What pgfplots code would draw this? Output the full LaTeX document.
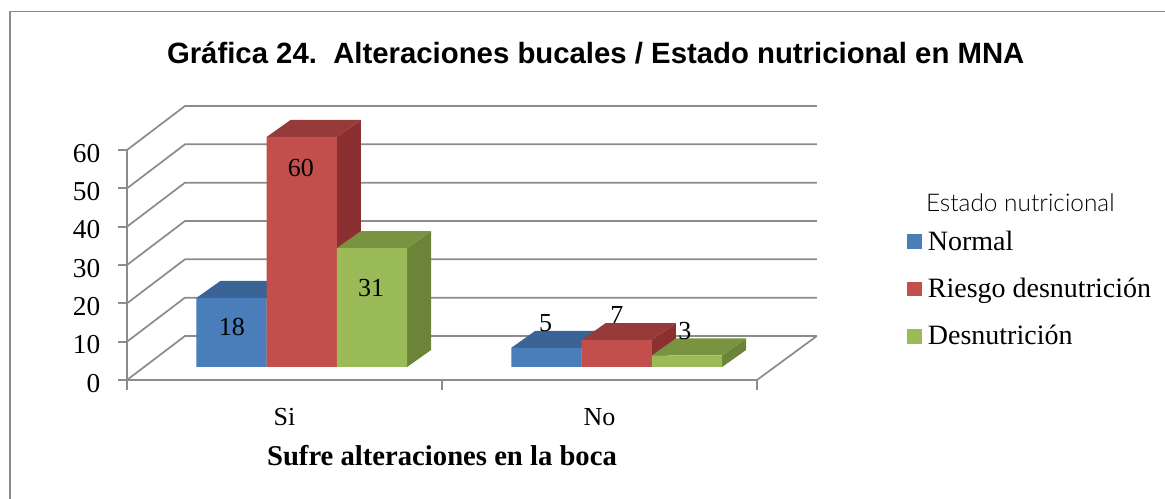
\documentclass[border=0pt]{standalone}
\usepackage{pgfplots}
\pgfplotsset{compat=1.18}
\usepackage{fontspec}
\setmainfont{Liberation Serif}
\newfontfamily\titlefont{Liberation Sans}
\newfontfamily\legtitlefont{Lato Light}

\definecolor{wallgray}{HTML}{8C8C8C}
\definecolor{bluefront}{HTML}{4A7EBB}
\definecolor{bluetop}{HTML}{3A6495}
\definecolor{blueside}{HTML}{335A87}
\definecolor{redfront}{HTML}{C34F4D}
\definecolor{redtop}{HTML}{963A3A}
\definecolor{redside}{HTML}{8C2F30}
\definecolor{greenfront}{HTML}{9BBB59}
\definecolor{greentop}{HTML}{7A9340}
\definecolor{greenside}{HTML}{6C8438}

% square legend key, with a little room before the entry's text
\pgfplotsset{swatch/.style={legend image code/.code={\fill[##1,draw=none] (0pt,-5.6pt) rectangle (11.25pt,5.6pt);\path (15.75pt,0pt);}}}

% top and right faces of a bar: category, value, horizontal shift of the bar, colours
\newcommand{\barfaces}[5]{%
  \pgfmathsetmacro{\xl}{#1+(#3-35.15)/315}%
  \pgfmathsetmacro{\xr}{#1+(#3+35.15)/315}%
  \pgfmathsetmacro{\xld}{\xl+24/315}%
  \pgfmathsetmacro{\xrd}{\xr+24/315}%
  \pgfmathsetmacro{\vd}{#2+4.435}%
  \addplot[fill=#5,draw=none,forget plot] coordinates {(\xr,0) (\xrd,4.435) (\xrd,\vd) (\xr,#2)} --cycle;
  \addplot[fill=#4,draw=none,forget plot] coordinates {(\xl,#2) (\xr,#2) (\xrd,\vd) (\xld,\vd)} --cycle;
}
% a value printed at a position given in category units and along the value scale
\newcommand{\vlabel}[3]{\node[font=\fontsize{19.5}{20}\selectfont] at (axis cs:#1,#2) {#3};}

\begin{document}
\begin{tikzpicture}[x=1pt,y=1pt]
\path[use as bounding box] (0,0) rectangle (873.75pt,374.25pt);
\draw[wallgray,line width=1.2pt] (7.5pt,-2pt) -- (7.5pt,365.5pt) -- (876pt,365.5pt);

\begin{axis}[
  at={(95.25pt,89.25pt)},anchor=south west,
  scale only axis,width=472.5pt,height=172.5pt,
  xmin=-0.5,xmax=1.5,ymin=-3.4,ymax=56.6,
  clip=false,
  axis x line=bottom,axis y line=left,
  axis line style={wallgray,line width=1.3pt,-},
  xtick={0,1},xticklabels={Si,No},
  minor xtick={-0.5,0.5,1.5},
  ytick={-3.4,6.6,16.6,26.6,36.6,46.6,56.6},
  yticklabels={0,10,20,30,40,50,60},
  tick style={wallgray,line width=1.3pt},
  major x tick style={draw=none},
  minor tick length=7.5pt,
  major tick length=6.5pt,
  tick align=outside,
  ticklabel style={font=\fontsize{19.5}{20}\selectfont},
  yticklabel style={xshift=-10pt,yshift=-2.5pt,font=\fontsize{20.5}{21}\selectfont},
  xticklabel style={yshift=-11.5pt},
  xlabel={\textbf{Sufre alteraciones en la boca}},
  xlabel style={font=\fontsize{21.5}{22}\selectfont,at={(axis description cs:0.5,-0.33)},anchor=center},
  title={\titlefont\bfseries Gráfica 24.\ \ Alteraciones bucales / Estado nutricional en MNA},
  title style={font=\fontsize{22}{24}\selectfont,at={(axis description cs:0.744,1.385)},anchor=center},
  legend style={at={(axis cs:1.975,35.5)},anchor=north west,draw=none,fill=none,
    row sep=19.25pt,inner sep=0pt,
    font=\fontsize{21}{22}\selectfont,
    nodes={anchor=west,inner sep=0pt,xshift=5pt}},
  legend cell align=left,
]

% walls and floor behind the bars
\pgfplotsinvokeforeach{0,1,2,3,4,5,6}{
  \draw[wallgray,line width=1.3pt] (axis cs:-0.5,{-3.4+10*#1}) -- (axis cs:-0.316,{8.08+10*#1}) -- (axis cs:1.69,{8.08+10*#1});
}
\draw[wallgray,line width=1.3pt] (axis cs:1.5,-3.4) -- (axis cs:1.69,8.08);

\barfaces{0}{18}{-53}{bluetop}{blueside}
\barfaces{1}{5}{-53}{bluetop}{blueside}
\addplot[ybar,bar width=52.7pt,bar shift=-39.75pt,fill=bluefront,draw=none,swatch] coordinates {(0,18) (1,5)};
\addlegendentry{Normal}

\barfaces{0}{60}{17.25}{redtop}{redside}
\barfaces{1}{7}{17.25}{redtop}{redside}
\addplot[ybar,bar width=52.7pt,bar shift=12.94pt,fill=redfront,draw=none,swatch] coordinates {(0,60) (1,7)};
\addlegendentry{Riesgo desnutrición}

\barfaces{0}{31}{87.5}{greentop}{greenside}
\barfaces{1}{3}{87.5}{greentop}{greenside}
\addplot[ybar,bar width=52.7pt,bar shift=65.6pt,fill=greenfront,draw=none,swatch] coordinates {(0,31) (1,3)};
\addlegendentry{Desnutrición}

\vlabel{-0.167}{10.4}{18}
\vlabel{0.052}{51.9}{60}
\vlabel{0.275}{20.6}{31}
\vlabel{0.829}{11.5}{5}
\vlabel{1.055}{13.6}{7}
\vlabel{1.271}{9.4}{3}
\end{axis}

\node[font=\legtitlefont\fontsize{18.3}{20}\selectfont,anchor=west] at (691pt,222pt) {Estado nutricional};
\end{tikzpicture}
\end{document}
